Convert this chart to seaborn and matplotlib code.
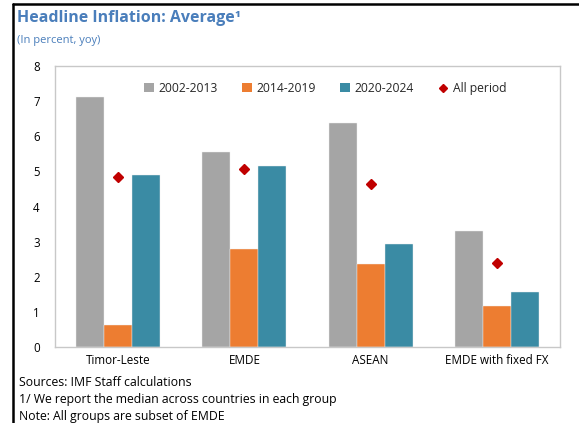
import matplotlib
matplotlib.use("Agg")
import matplotlib.pyplot as plt
import seaborn as sns
import pandas as pd
from matplotlib.patches import Patch
from matplotlib.lines import Line2D

categories = ["Timor-Leste", "EMDE", "ASEAN", "EMDE with fixed FX"]
periods = ["2002-2013", "2014-2019", "2020-2024"]
v_2002_2013 = [7.12, 5.56, 6.39, 3.31]
v_2014_2019 = [0.63, 2.78, 2.36, 1.16]
v_2020_2024 = [4.89, 5.15, 2.93, 1.56]
all_period = [4.84, 5.07, 4.64, 2.40]
colors = ["#A5A5A5", "#ED7D31", "#3A8BA4"]
diamond_color = "#C00000"
title_color = "#4A7EBB"

rows = []
for p, vals in zip(periods, [v_2002_2013, v_2014_2019, v_2020_2024]):
    for c, v in zip(categories, vals):
        rows.append({"Group": c, "Period": p, "Value": v})
df = pd.DataFrame(rows)

sns.set_theme(style="white")
plt.rcParams["font.family"] = ["Open Sans", "DejaVu Sans"]

fig = plt.figure(figsize=(5.79, 4.23), dpi=100)
ax = fig.add_axes([55/579, 1-347/423, (560-55)/579, (347-66)/423])

sns.barplot(data=df, x="Group", y="Value", hue="Period", order=categories,
            hue_order=periods, palette=colors, width=0.667, ax=ax,
            edgecolor="#F0F0F0", linewidth=0.3, legend=False, saturation=1)
ax.plot(categories, all_period, linestyle="none", marker="D", markersize=5,
        color=diamond_color, zorder=5)

ax.set_ylim(0, 8)
ax.set_xlim(-0.5, 3.5)
ax.set_yticks(range(0, 9))
ax.set_xlabel("")
ax.set_ylabel("")
for s in ax.spines.values():
    s.set_visible(True)
    s.set_color("#C8C8C8")
    s.set_linewidth(1.0)
ax.tick_params(axis="y", length=3, width=0.8, color="#C8C8C8", labelsize=8.3,
               labelcolor="#000000", pad=8, direction="out")
ax.tick_params(axis="x", length=0, labelsize=8.4, labelcolor="#000000", pad=5)

handles = [Patch(facecolor=c, edgecolor="none") for c in colors]
handles.append(Line2D([], [], linestyle="none", marker="D", markersize=4,
                      color=diamond_color))
ax.legend(handles, periods + ["All period"], loc="center", ncol=4,
          bbox_to_anchor=(0.535, 0.92), frameon=False, fontsize=8.7,
          handlelength=0.8, handleheight=0.8, handletextpad=0.4,
          columnspacing=2.0)

fig.text(17/579, 1-18/423, "Headline Inflation: Average\u00b9", fontsize=11.5,
         fontweight="bold", color=title_color, va="center", ha="left")
fig.text(17/579, 1-40/423, "(In percent, yoy)", fontsize=8,
         color=title_color, va="center", ha="left")
notes = ["Sources: IMF Staff calculations",
         "1/ We report the median across countries in each group",
         "Note: All groups are subset of EMDE"]
for i, n in enumerate(notes):
    fig.text(19/579, 1-(382+17*i)/423, n, fontsize=8.8, color="#000000",
             va="center", ha="left")

fig.add_artist(Line2D([12.5/579, 12.5/579], [0, 1-4.5/423], transform=fig.transFigure,
                      color="black", linewidth=1.8))
fig.add_artist(Line2D([12.5/579, 1], [1-4.5/423, 1-4.5/423], transform=fig.transFigure,
                      color="black", linewidth=1.8))

fig.savefig("out.png", dpi=100)
